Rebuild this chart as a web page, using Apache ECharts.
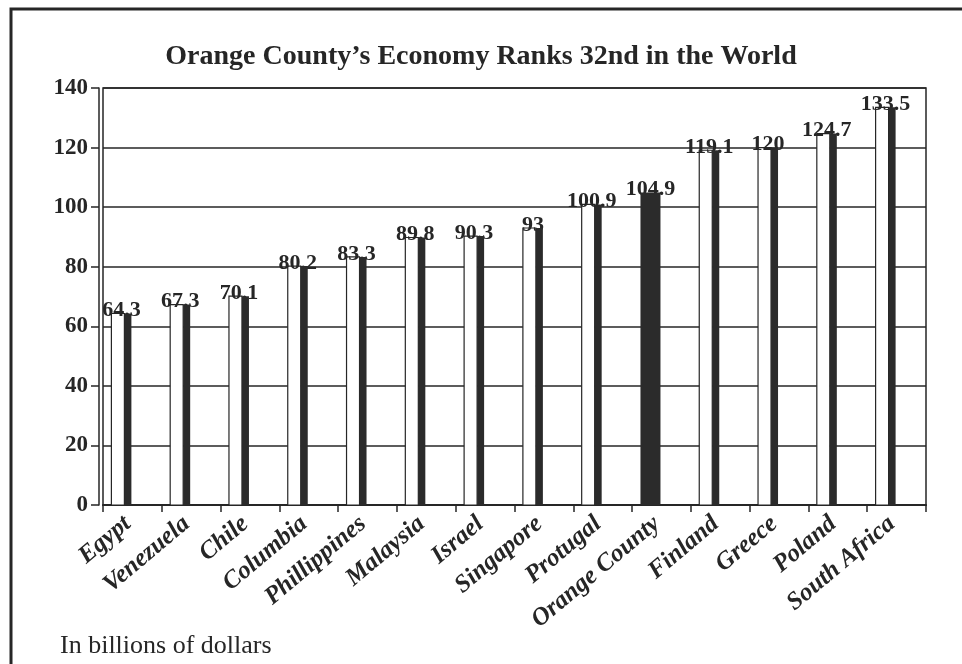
<!DOCTYPE html>
<html>
<head>
<meta charset="utf-8">
<script src="https://cdn.jsdelivr.net/npm/echarts@6/dist/echarts.min.js"></script>
<style>
html,body{margin:0;padding:0;background:#fff;}
#chart{width:962px;height:664px;}
</style>
</head>
<body>
<div id="chart"></div>
<script>
const categories = ['Egypt','Venezuela','Chile','Columbia','Phillippines','Malaysia','Israel','Singapore','Protugal','Orange County','Finland','Greece','Poland','South Africa'];
const values = [64.3, 67.3, 70.1, 80.2, 83.3, 89.8, 90.3, 93, 100.9, 104.9, 119.1, 120, 124.7, 133.5];
const highlight = 'Orange County';
const yTicks = [0, 20, 40, 60, 80, 100, 120, 140];
const titleText = 'Orange County\u2019s Economy Ranks 32nd in the World';
const noteText = 'In billions of dollars';

const ink = '#262626';
const chart = echarts.init(document.getElementById('chart'));
chart.setOption({
  backgroundColor: '#ffffff',
  animation: false,
  title: {
    text: titleText,
    left: 'center',
    top: 38,
    textStyle: {fontFamily: 'Liberation Serif', fontWeight: 'bold', fontSize: 28, color: ink}
  },
  graphic: [
    {type: 'rect', shape: {x: 11, y: 9, width: 1000, height: 700}, style: {fill: 'none', stroke: ink, lineWidth: 3}},
    {type: 'text', left: 60, top: 633, style: {text: noteText, font: '26px "Liberation Serif"', fill: ink}}
  ],
  grid: {left: 103, right: 36, top: 88, bottom: 159, show: true, borderColor: ink, borderWidth: 1.5},
  xAxis: {
    type: 'category',
    data: categories,
    axisLine: {lineStyle: {color: ink, width: 2}},
    axisTick: {show: true, length: 7, lineStyle: {color: ink, width: 1.5}},
    axisLabel: {
      interval: 0, rotate: 40, margin: 12,
      fontFamily: 'Liberation Serif', fontWeight: 'bold', fontStyle: 'italic', fontSize: 25, color: ink,
      padding: [0, 6, 0, 0]
    }
  },
  yAxis: {
    type: 'value',
    min: yTicks[0], max: yTicks[yTicks.length - 1], interval: 20,
    offset: 4,
    axisLine: {show: true, lineStyle: {color: ink, width: 1.5}},
    axisTick: {show: true, length: 8, lineStyle: {color: ink, width: 1.5}},
    axisLabel: {margin: 11, fontFamily: 'Liberation Serif', fontWeight: 'bold', fontSize: 23, color: ink},
    splitLine: {show: true, lineStyle: {color: ink, width: 1.5}}
  },
  series: [{
    type: 'custom',
    data: values.map((v, i) => [i, v]),
    renderItem: function (params, api) {
      const i = api.value(0), v = api.value(1);
      const top = api.coord([i, v]);
      const base = api.coord([i, 0]);
      const cx = top[0];
      const h = base[1] - top[1];
      const children = [];
      const label = {type: 'text', style: {x: cx - 11, y: top[1] - 3, text: String(v), font: 'bold 22px "Liberation Serif"', fill: ink, align: 'center', verticalAlign: 'middle'}};
      if (categories[i] === highlight) {
        children.push(label);
        children.push({type: 'rect', shape: {x: cx - 21, y: top[1], width: 20, height: h}, style: {fill: '#2b2b2b'}});
      } else {
        children.push({type: 'rect', shape: {x: cx - 21, y: top[1], width: 13, height: h}, style: {fill: '#ffffff', stroke: ink, lineWidth: 1.2}});
        children.push(label);
        children.push({type: 'rect', shape: {x: cx - 8, y: top[1], width: 7, height: h}, style: {fill: '#2b2b2b'}});
      }
      return {type: 'group', children: children};
    }
  }]
});
</script>
</body>
</html>
